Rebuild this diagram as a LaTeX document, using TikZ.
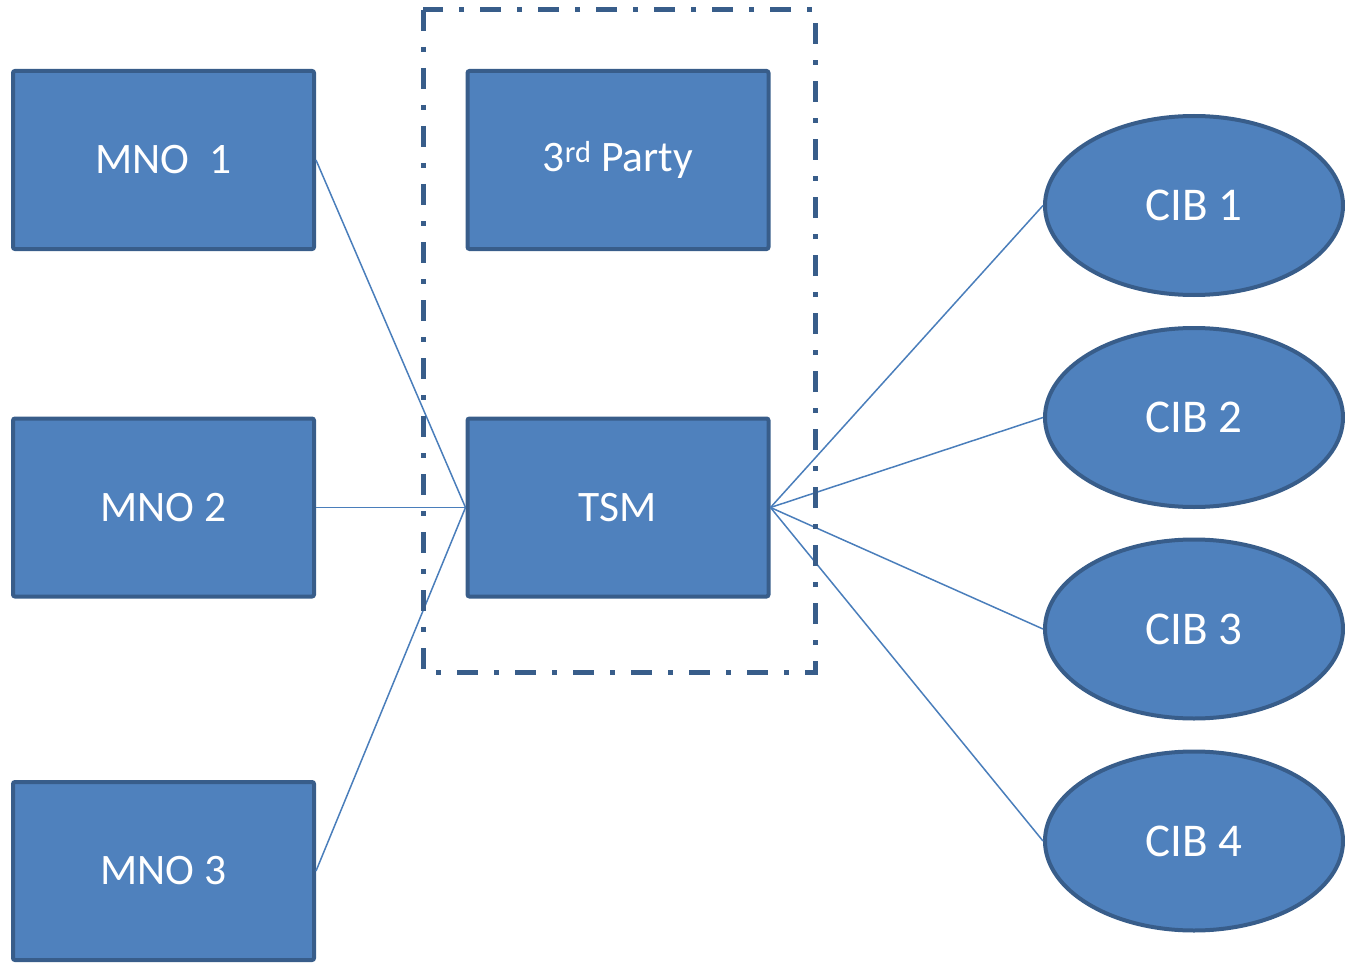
\documentclass[tikz,border=0pt]{standalone}
\usepackage{fontspec}
\setmainfont{Carlito}
\usetikzlibrary{shapes.geometric}
\definecolor{boxfill}{HTML}{4F81BD}
\definecolor{boxline}{HTML}{385D8A}
\definecolor{linkline}{HTML}{4A7EBB}
\tikzset{
  unitbox/.style={draw=boxline, fill=boxfill, line width=4pt, rounded corners=2pt,
    minimum width=301pt, minimum height=178pt, inner sep=0pt, text=white,
    font=\fontsize{43.5}{52}\selectfont},
  cibnode/.style={ellipse, draw=boxline, fill=boxfill, line width=4pt,
    minimum width=298pt, minimum height=179pt, inner sep=0pt, text=white,
    font=\fontsize{47}{56}\selectfont},
  link/.style={draw=linkline, line width=1.5pt},
  trustzone/.style={draw=boxline, line width=5pt,
    dash pattern=on 21pt off 16pt on 5pt off 16pt}
}
\begin{document}
\begin{tikzpicture}[x=1pt, y=-1pt]
  \useasboundingbox (0,0) rectangle (1345,963);
  \clip (0,0) rectangle (1345,963);

  % operator boxes
  \node[unitbox] (mnoA) at (163.5,160) {MNO\ \ 1};
  \node[unitbox] (mnoB) at (163.5,507.5) {MNO 2};
  \node[unitbox] (mnoC) at (163.5,871) {MNO 3};

  % trusted service manager and third party
  \node[unitbox] (third) at (618,160) {3\textsuperscript{rd} Party};
  \node[unitbox] (tsm) at (618,507.5) {TSM};

  % card issuing banks
  \node[cibnode] (cibA) at (1194,205.5) {CIB 1};
  \node[cibnode] (cibB) at (1194,417.5) {CIB 2};
  \node[cibnode] (cibC) at (1194,629) {CIB 3};
  \node[cibnode] (cibD) at (1194,841) {CIB 4};

  % links
  \draw[link] (mnoA.east) -- (tsm.west);
  \draw[link] (mnoB.east) -- (tsm.west);
  \draw[link] (mnoC.east) -- (tsm.west);
  \draw[link] (tsm.east) -- (cibA.west);
  \draw[link] (tsm.east) -- (cibB.west);
  \draw[link] (tsm.east) -- (cibC.west);
  \draw[link] (tsm.east) -- (cibD.west);

  % trusted domain boundary
  \coordinate (domNW) at (423,10);
  \coordinate (domSE) at (815,672);
  \draw[trustzone] (domNW) rectangle (domSE);
\end{tikzpicture}
\end{document}
